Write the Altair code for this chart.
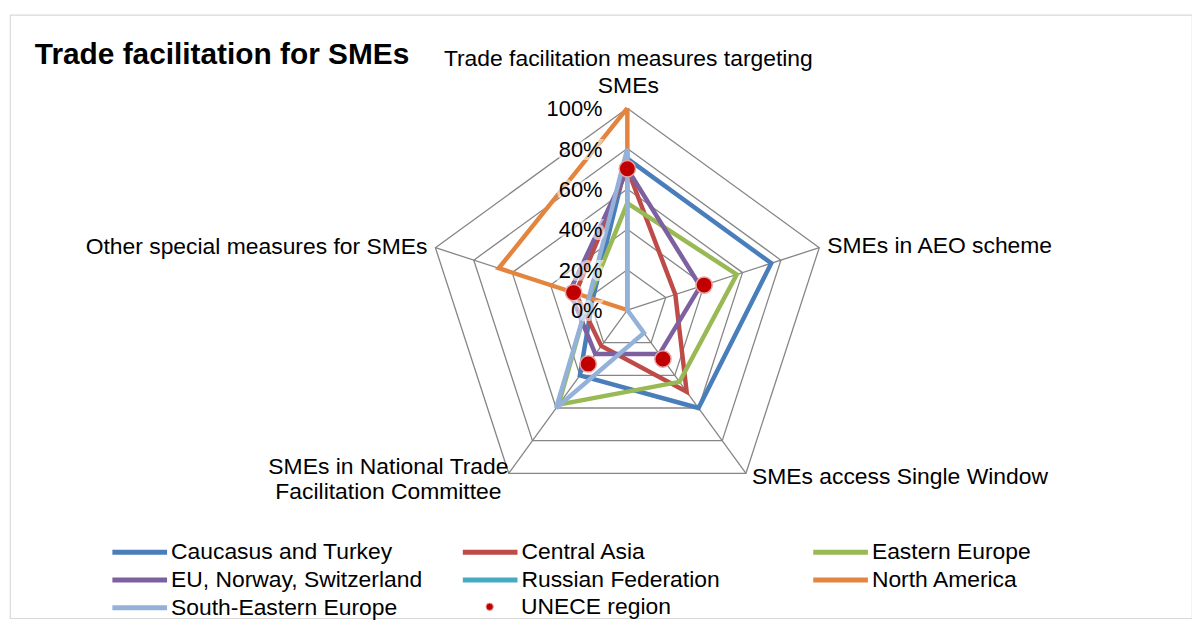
import math
import altair as alt
import pandas as pd

# ---------------- data ----------------
axis_labels = [
    "Trade facilitation measures targeting\nSMEs",
    "SMEs in AEO scheme",
    "SMEs access Single Window",
    "SMEs in National Trade\nFacilitation Committee",
    "Other special measures for SMEs",
]
series_names = [
    "Caucasus and Turkey",
    "Central Asia",
    "Eastern Europe",
    "EU, Norway, Switzerland",
    "Russian Federation",
    "North America",
    "South-Eastern Europe",
]
caucasus = [75, 75, 60, 40, 18]
central_asia = [70, 25, 50, 22, 27]
eastern_europe = [53, 57, 44, 58, 20]
eu_norway_switzerland = [70, 38, 27, 27, 30]
russian_federation = [0, 0, 0, 0, 0]
north_america = [100, 0, 0, 0, 67]
south_eastern_europe = [80, 0, 14, 60, 20]
unece_region = [70, 40, 30, 33, 28]
tick_values = [0, 20, 40, 60, 80, 100]

series_values = [caucasus, central_asia, eastern_europe, eu_norway_switzerland,
                 russian_federation, north_america, south_eastern_europe]
series_colors = ["#4A7EBB", "#BE4B48", "#98B954", "#7D60A0", "#46AAC5", "#E3853F", "#93B1D9"]

# ---------------- geometry (radar layout) ----------------
n_axes = len(axis_labels)
angles = [math.pi / 2 - 2 * math.pi * i / n_axes for i in range(n_axes)]


def polar(v, i):
    return v / 100.0 * math.cos(angles[i]), v / 100.0 * math.sin(angles[i])


line_rows = []
for name, vals in zip(series_names, series_values):
    for k in range(n_axes + 1):
        i = k % n_axes
        x, y = polar(vals[i], i)
        line_rows.append({"series": name, "x": x, "y": y, "k": k})
lines_df = pd.DataFrame(line_rows)

ring_rows = []
for t in tick_values[1:]:
    for k in range(n_axes + 1):
        i = k % n_axes
        x, y = polar(t, i)
        ring_rows.append({"ring": t, "x": x, "y": y, "k": k})
rings_df = pd.DataFrame(ring_rows)

spoke_rows = []
for i in range(n_axes):
    x2, y2 = polar(100, i)
    spoke_rows.append({"x": 0.0, "y": 0.0, "x2": x2, "y2": y2})
spokes_df = pd.DataFrame(spoke_rows)

dot_rows = []
for i in range(n_axes):
    x, y = polar(unece_region[i], i)
    dot_rows.append({"name": "UNECE region", "x": x, "y": y})
dots_df = pd.DataFrame(dot_rows)

tick_df = pd.DataFrame({"x": [0.0] * len(tick_values),
                        "y": [t / 100.0 for t in tick_values],
                        "label": [f"{t}%" for t in tick_values]})

lab_rows = []
for i, lab in enumerate(axis_labels):
    x, y = polar(100, i)
    lab_rows.append({"i": i, "x": x, "y": y, "label": lab})
labels_df = pd.DataFrame(lab_rows)

# ---------------- scales ----------------
W, H = 1189, 607
CX, CY, R = 621, 297, 203
xs = alt.Scale(domain=[-CX / R, (W - CX) / R], nice=False, zero=False)
ys = alt.Scale(domain=[-(H - CY) / R, CY / R], nice=False, zero=False)
FONT = "Liberation Sans"
FS = 23

X = alt.X("x:Q", scale=xs, axis=None)
Y = alt.Y("y:Q", scale=ys, axis=None)

rings = alt.Chart(rings_df).mark_line(color="#868686", strokeWidth=1.3).encode(
    x=X, y=Y, detail="ring:N", order="k:Q")

spokes = alt.Chart(spokes_df).mark_rule(color="#868686", strokeWidth=1.3).encode(
    x=X, y=Y, x2="x2:Q", y2="y2:Q")

lines = alt.Chart(lines_df).mark_line(strokeWidth=4.5, strokeMiterLimit=3).encode(
    x=X, y=Y, order="k:Q",
    color=alt.Color("series:N",
                    scale=alt.Scale(domain=series_names, range=series_colors),
                    legend=alt.Legend(title=None, orient="none", direction="horizontal",
                                      legendX=117, legendY=527,
                                      columns=3, gridAlign="all", columnPadding=30.5,
                                      rowPadding=2, symbolType="M-2.5,0H2.5", symbolSize=484,
                                      symbolStrokeWidth=5, labelFont=FONT, labelFontSize=FS,
                                      labelColor="#000000", labelOffset=18, labelLimit=400,
                                      padding=0)),
)

dots = alt.Chart(dots_df).mark_point(filled=True, size=270, stroke="#E6A3A3",
                                     strokeWidth=1.5, opacity=1).encode(
    x=X, y=Y,
    fill=alt.Fill("name:N", scale=alt.Scale(domain=["UNECE region"], range=["#C00000"]),
                  legend=alt.Legend(title=None, orient="none", legendX=471, legendY=584,
                                    symbolType="circle", symbolSize=55, symbolStrokeWidth=1,
                                    labelFont=FONT, labelFontSize=FS, labelColor="#000000",
                                    labelOffset=20, padding=0)),
)

tick_halo = alt.Chart(tick_df).mark_text(
    align="right", baseline="alphabetic", dx=-25, dy=8, font=FONT, fontSize=22,
    color="white", stroke="white", strokeWidth=6, strokeOpacity=0.75, opacity=0.75
).encode(x=X, y=Y, text="label:N")

tick_text = alt.Chart(tick_df).mark_text(
    align="right", baseline="alphabetic", dx=-25, dy=8, font=FONT, fontSize=22, color="#000000"
).encode(x=X, y=Y, text="label:N")

label_styles = [
    dict(align="center", dx=1, dy=-42, lineHeight=26.5),
    dict(align="left", dx=8, dy=5, lineHeight=26),
    dict(align="left", dx=6, dy=11, lineHeight=26),
    dict(align="center", dx=-121, dy=1, lineHeight=25),
    dict(align="right", dx=-8, dy=6, lineHeight=26),
]
label_layers = []
for i, st in enumerate(label_styles):
    label_layers.append(
        alt.Chart(labels_df).transform_filter(alt.datum.i == i).mark_text(
            baseline="alphabetic", font=FONT, fontSize=FS, color="#000000",
            lineBreak="\n", **st
        ).encode(x=X, y=Y, text="label:N")
    )

chart = alt.layer(rings, spokes, lines, dots, tick_halo, tick_text, *label_layers).properties(
    width=W, height=H,
    autosize=alt.AutoSizeParams(type="none"),
    padding={"left": 2, "top": 5, "right": 0, "bottom": 0},
    title=alt.TitleParams("Trade facilitation for SMEs", anchor="start", frame="group",
                          orient="top", offset=0, dx=25, dy=80, baseline="alphabetic",
                          font=FONT, fontSize=30, fontWeight="bold", color="#000000"),
    background="white",
).resolve_legend(color="independent", fill="independent").configure_view(
    stroke="#D9D9D9", strokeWidth=1.2
)

chart.save("out.html", embed_options={"renderer": "svg", "actions": False})
